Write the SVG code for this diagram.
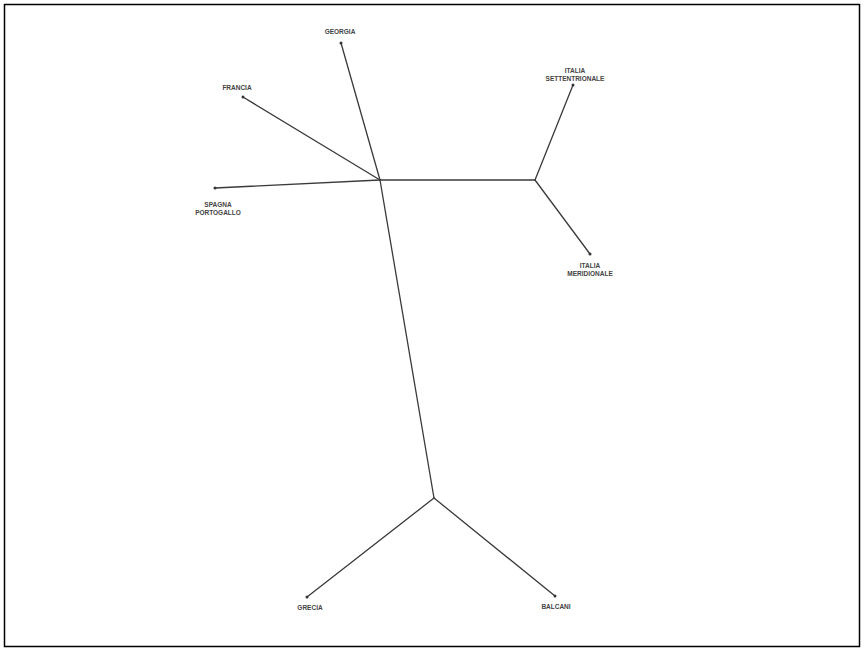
<svg xmlns="http://www.w3.org/2000/svg" width="864" height="651" viewBox="0 0 864 651">
<style>
.e{stroke:#3a3a3a;stroke-width:1.3;fill:none;stroke-linecap:round}
.t{font-family:"Liberation Sans",Arial,sans-serif;font-weight:bold;font-size:6.5px;fill:#444;text-anchor:middle}
.d{fill:#333}
</style>
<rect x="4.5" y="4.5" width="855" height="642" fill="#fff" stroke="#000" stroke-width="1.5"/>
<g id="connectors">
<line class="e" x1="341" y1="43" x2="380" y2="180"/>
<line class="e" x1="243" y1="97" x2="380" y2="180"/>
<line class="e" x1="215" y1="188" x2="380" y2="180"/>
<line class="e" x1="380" y1="180" x2="535" y2="180"/>
<line class="e" x1="535" y1="180" x2="573" y2="85"/>
<line class="e" x1="535" y1="180" x2="590" y2="254"/>
<line class="e" x1="380" y1="180" x2="434" y2="498"/>
<line class="e" x1="434" y1="498" x2="307" y2="597"/>
<line class="e" x1="434" y1="498" x2="555" y2="596"/>
</g>
<g id="georgia"><circle class="d" cx="341" cy="43" r="1.5"/><text class="t" x="340" y="34">GEORGIA</text></g>
<g id="francia"><circle class="d" cx="243" cy="97" r="1.5"/><text class="t" x="237" y="90">FRANCIA</text></g>
<g id="spagna"><circle class="d" cx="215" cy="188" r="1.5"/><text class="t" x="218" y="207">SPAGNA</text><text class="t" x="218" y="215">PORTOGALLO</text></g>
<g id="italia-sett"><circle class="d" cx="573" cy="85" r="1.5"/><text class="t" x="575" y="73">ITALIA</text><text class="t" x="575" y="81">SETTENTRIONALE</text></g>
<g id="italia-mer"><circle class="d" cx="590" cy="254" r="1.5"/><text class="t" x="590" y="268">ITALIA</text><text class="t" x="590" y="276">MERIDIONALE</text></g>
<g id="grecia"><circle class="d" cx="307" cy="597" r="1.5"/><text class="t" x="310" y="610">GRECIA</text></g>
<g id="balcani"><circle class="d" cx="555" cy="596" r="1.5"/><text class="t" x="556" y="609">BALCANI</text></g>
</svg>
